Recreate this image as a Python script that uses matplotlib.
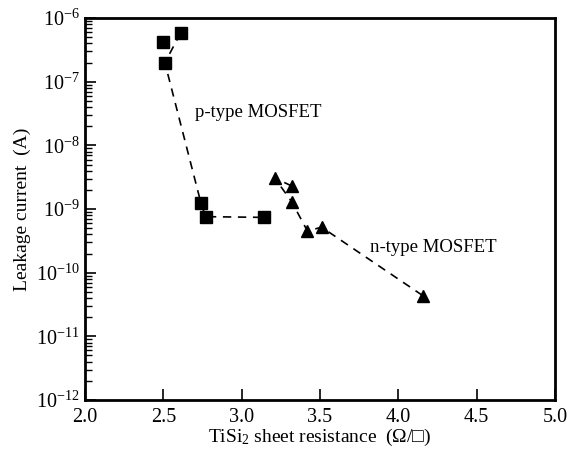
import numpy as np
import matplotlib
matplotlib.use("Agg")
import matplotlib.pyplot as plt
from matplotlib.ticker import LogLocator, NullFormatter, MultipleLocator

plt.rcParams['font.family'] = ['Liberation Serif', 'DejaVu Serif']
plt.rcParams['mathtext.fontset'] = 'custom'
plt.rcParams['mathtext.rm'] = 'Liberation Serif'
plt.rcParams['mathtext.it'] = 'Liberation Serif:italic'

# p-type MOSFET (squares), in line order
p_res = [2.61, 2.51, 2.74, 2.77, 3.14]
p_leak = [5.8e-7, 2.0e-7, 1.25e-9, 7.6e-10, 7.4e-10]
# extra square not on the dashed line
p_extra_res = [2.50]
p_extra_leak = [4.2e-7]

# n-type MOSFET (triangles), in line order
n_res = [3.32, 3.21, 3.32, 3.42, 3.51, 4.16]
n_leak = [2.3e-9, 3.1e-9, 1.3e-9, 4.5e-10, 5.2e-10, 4.3e-11]

fig = plt.figure(figsize=(5.68, 4.54), dpi=100)
ax = fig.add_axes([0.1496, 0.119, 0.8275, 0.841])

ax.plot(p_res, p_leak, color='black', ls=(0, (5, 4)), lw=1.2,
        marker='s', ms=8, mfc='black', mec='black')
ax.plot(p_extra_res, p_extra_leak, ls='none', marker='s', ms=8, color='black')
ax.plot(n_res, n_leak, color='black', ls=(0, (5, 4)), lw=1.2,
        marker='^', ms=9, mfc='black', mec='black')

ax.set_yscale('log')
ax.set_xlim(2.0, 5.0)
ax.set_ylim(1e-12, 1e-6)
ax.xaxis.set_major_locator(MultipleLocator(0.5))
ax.xaxis.set_major_formatter(plt.FormatStrFormatter('%.1f'))
ax.yaxis.set_major_locator(LogLocator(base=10, numticks=10))
ax.yaxis.set_minor_locator(LogLocator(base=10, subs=np.arange(2, 10), numticks=10))
ax.yaxis.set_minor_formatter(NullFormatter())

ax.tick_params(axis='both', which='major', direction='in', length=8, width=1.2,
               labelsize=14.5, top=False, right=False)
ax.tick_params(axis='y', which='minor', direction='in', length=5, width=1.0,
               right=False)
ax.tick_params(axis='x', pad=6)
ax.tick_params(axis='y', pad=4)
for sp in ax.spines.values():
    sp.set_linewidth(2)

ax.text(2.70, 10 ** -7.49, 'p-type MOSFET', fontsize=13.5, va='center', ha='left')
ax.text(3.82, 10 ** -9.61, 'n-type MOSFET', fontsize=13.5, va='center', ha='left')

ax.set_xlabel(r'TiSi$_2$ sheet resistance  (Ω/□)', fontsize=14)
ax.set_ylabel('Leakage current  (A)', fontsize=14)
ax.xaxis.set_label_coords(0.5, -0.097)
ax.yaxis.set_label_coords(-0.134, 0.5)
ax.xaxis.label.set_va('center')
ax.yaxis.label.set_va('center')

fig.savefig('out.png', dpi=100)
